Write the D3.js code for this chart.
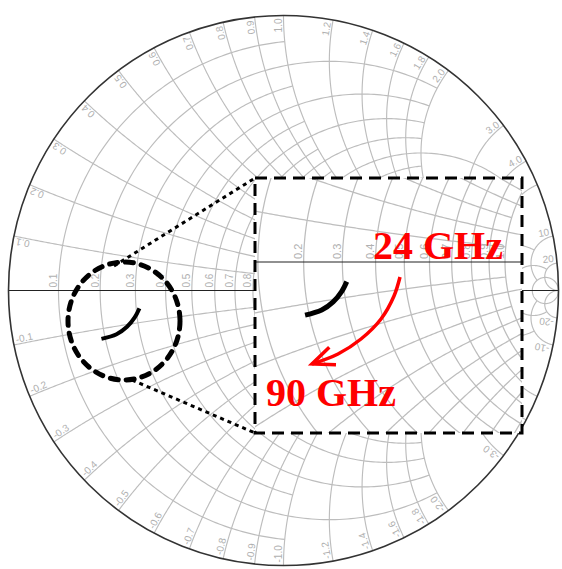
<!DOCTYPE html>
<html>
<head>
<meta charset="utf-8">
<script src="https://cdn.jsdelivr.net/npm/d3@7"></script>
<style>
  html, body { margin: 0; padding: 0; background: #fff; }
  svg { display: block; }
</style>
</head>
<body>
<svg id="chart" width="562" height="569"></svg>
<script>
// Constant-resistance circles and the largest |reactance| each one is drawn to
const resistanceValues = [0.1, 0.2, 0.3, 0.4, 0.5, 0.6, 0.7, 0.8, 0.9, 1.0, 1.2, 1.4, 1.6, 1.8, 2.0, 3.0, 4.0, 5.0, 10, 20];
const resistanceReach  = [1, 2, 1, 2, 1, 2, 1, 2, 1, 5, 2, 2, 2, 2, 5, 5, 5, 10, 20, Infinity];
// Constant-reactance arcs and the largest resistance each one is drawn to
const reactanceValues = [0.1, 0.2, 0.3, 0.4, 0.5, 0.6, 0.7, 0.8, 0.9, 1.0, 1.2, 1.4, 1.6, 1.8, 2.0, 3.0, 4.0, 5.0, 10, 20];
const reactanceReach  = [1, 2, 1, 2, 1, 2, 1, 2, 1, 5, 2, 2, 2, 2, 5, 5, 5, 10, 20, Infinity];
// Grid labels, same order as the values above
const gridLabels = ["0.1", "0.2", "0.3", "0.4", "0.5", "0.6", "0.7", "0.8", "0.9", "1.0", "1.2", "1.4", "1.6", "1.8", "2.0", "3.0", "4.0", "5.0", "10", "20"];

// Measured reflection coefficient across the sweep (real / imaginary part)
const gammaRe = [-0.524, -0.541, -0.569, -0.607, -0.662];
const gammaIm = [-0.065, -0.098, -0.132, -0.159, -0.176];
const sweepLabels = ["24 GHz", "90 GHz"];

const svg = d3.select("#chart");

// frame of the enlarged view and the ring that marks its source region
const box = { x0: 255, y0: 178, x1: 522, y1: 433 };
const lens = { cx: 124, cy: 321, rx: 56, ry: 59 };

// z -> reflection coefficient
function gamma(r, x) {
  const d = (r + 1) * (r + 1) + x * x;
  return [(r * r + x * x - 1) / d, (2 * x) / d];
}

function resistancePoints(r, reach) {
  const c = r / (1 + r), rho = 1 / (1 + r);
  let a0 = 0.0001, a1 = 2 * Math.PI - 0.0001;
  if (isFinite(reach)) {
    const p = gamma(r, reach);
    a0 = Math.atan2(p[1], p[0] - c);
    a1 = 2 * Math.PI - a0;
  }
  return d3.range(0, 241).map(i => {
    const a = a0 + (a1 - a0) * i / 240;
    return [c + rho * Math.cos(a), rho * Math.sin(a)];
  });
}

function reactancePoints(x, reach) {
  const cy = 1 / x, rho = Math.abs(1 / x);
  const p0 = gamma(0, x);
  const p1 = isFinite(reach) ? gamma(reach, x) : [1, 0];
  const a0 = Math.atan2(p0[1] - cy, p0[0] - 1);
  let da = Math.atan2(p1[1] - cy, p1[0] - 1) - a0;
  while (da > Math.PI) da -= 2 * Math.PI;
  while (da <= -Math.PI) da += 2 * Math.PI;
  return d3.range(0, 161).map(i => {
    const a = a0 + da * i / 160;
    return [1 + rho * Math.cos(a), cy + rho * Math.sin(a)];
  });
}

const inBox = b => b.x >= box.x0 + 1 && b.x + b.width <= box.x1 - 1 &&
                   b.y >= box.y0 + 1 && b.y + b.height <= box.y1 - 1;
const touchesBox = b => b.x + b.width > box.x0 && b.x < box.x1 &&
                        b.y + b.height > box.y0 && b.y < box.y1;

// Draws a Smith chart into g, centred at (cx, cy) with radius R
function drawSmith(g, cx, cy, R, opts) {
  const sx = d3.scaleLinear().domain([-1, 1]).range([cx - R, cx + R]);
  const sy = d3.scaleLinear().domain([-1, 1]).range([cy + R, cy - R]);
  const line = d3.line().x(d => sx(d[0])).y(d => sy(d[1]));
  const grid = g.append("g").attr("fill", "none").attr("stroke", "#bdbdbd").attr("stroke-width", opts.gridWidth);

  resistanceValues.forEach((r, i) => {
    grid.append("path").attr("d", line(resistancePoints(r, resistanceReach[i])));
  });
  reactanceValues.forEach((x, i) => {
    grid.append("path").attr("d", line(reactancePoints(x, reactanceReach[i])));
    grid.append("path").attr("d", line(reactancePoints(-x, reactanceReach[i])));
  });

  const labels = g.append("g").attr("fill", "#b0b0b0")
    .attr("font-family", "Liberation Sans, Arial, sans-serif")
    .attr("font-size", opts.fontSize);

  // labels on the real axis
  resistanceValues.forEach((r, i) => {
    const px = sx((r - 1) / (r + 1)) - 1.5, py = sy(0) - 3;
    labels.append("text")
      .attr("transform", `translate(${px},${py}) rotate(-90)`)
      .attr("text-anchor", "start")
      .text(gridLabels[i]);
  });

  // labels round the rim
  const pad = opts.fontSize * 0.3;
  reactanceValues.forEach((x, i) => {
    [1, -1].forEach(s => {
      const p = gamma(0, s * x);
      const th = Math.atan2(p[1], p[0]);
      const px = sx((1 - pad / R) * Math.cos(th)), py = sy((1 - pad / R) * Math.sin(th));
      const deg = -th * 180 / Math.PI;
      labels.append("text")
        .attr("transform", `translate(${px},${py}) rotate(${s > 0 ? deg : deg + 180})`)
        .attr("text-anchor", s > 0 ? "end" : "start")
        .attr("dy", "-0.15em")
        .text(s > 0 ? gridLabels[i] : "-" + gridLabels[i]);
    });
  });

  // keep only the labels that are visible in this view
  labels.selectAll("text").each(function () {
    const b = this.getBoundingClientRect();
    const box2 = { x: b.left, y: b.top, width: b.width, height: b.height };
    if (!opts.keepLabel(box2)) d3.select(this).remove();
  });

  // real axis
  g.append("line")
    .attr("x1", sx(-1)).attr("x2", sx(1)).attr("y1", sy(0)).attr("y2", sy(0))
    .attr("stroke", "#222").attr("stroke-width", 1.2);

  // outer rim
  g.append("circle").attr("cx", cx).attr("cy", cy).attr("r", R)
    .attr("fill", "none").attr("stroke", "#333").attr("stroke-width", 1.6);

  // measured trace
  const trace = d3.line().curve(d3.curveCatmullRom)
    .x((d, i) => sx(gammaRe[i])).y((d, i) => sy(gammaIm[i]));
  g.append("path").attr("d", trace(gammaRe))
    .attr("fill", "none").attr("stroke", "#000").attr("stroke-width", opts.traceWidth)
    .attr("stroke-linecap", "butt");
  return { sx, sy };
}

// main chart
const mainG = svg.append("g");
drawSmith(mainG, 283.5, 290.5, 275, {
  gridWidth: 1.15, fontSize: 10, traceWidth: 4,
  keepLabel: b => !touchesBox(b) && b.x + b.width < 561 && b.x > 1
});

// leader lines from the ring to the enlarged view
svg.append("line")
  .attr("x1", 114).attr("y1", 266).attr("x2", box.x0).attr("y2", box.y0)
  .attr("stroke", "#000").attr("stroke-width", 3).attr("stroke-dasharray", "4 4");
svg.append("line")
  .attr("x1", 132).attr("y1", 380).attr("x2", box.x0).attr("y2", box.y1)
  .attr("stroke", "#000").attr("stroke-width", 3).attr("stroke-dasharray", "4 4");

svg.append("ellipse")
  .attr("cx", lens.cx).attr("cy", lens.cy).attr("rx", lens.rx).attr("ry", lens.ry)
  .attr("fill", "none").attr("stroke", "#000").attr("stroke-width", 5)
  .attr("stroke-dasharray", "8 8").attr("stroke-linecap", "round");

// enlarged view
svg.append("defs").append("clipPath").attr("id", "boxClip")
  .append("rect").attr("x", box.x0).attr("y", box.y0)
  .attr("width", box.x1 - box.x0).attr("height", box.y1 - box.y0);
svg.append("rect").attr("x", box.x0).attr("y", box.y0)
  .attr("width", box.x1 - box.x0).attr("height", box.y1 - box.y0).attr("fill", "#fff");
const zoomG = svg.append("g").attr("clip-path", "url(#boxClip)");
drawSmith(zoomG, 505, 262, 302, {
  gridWidth: 1.25, fontSize: 11, traceWidth: 5,
  keepLabel: inBox
});

svg.append("rect").attr("x", box.x0).attr("y", box.y0)
  .attr("width", box.x1 - box.x0).attr("height", box.y1 - box.y0)
  .attr("fill", "none").attr("stroke", "#000").attr("stroke-width", 3)
  .attr("stroke-dasharray", "12 7");

// sweep direction arrow
const arrowPts = [[400, 277], [394, 296], [381, 319], [361, 339], [338, 354], [312, 364]];
svg.append("path")
  .attr("d", d3.line().curve(d3.curveCatmullRom)(arrowPts))
  .attr("fill", "none").attr("stroke", "#f00").attr("stroke-width", 3.5);
const tip = arrowPts[arrowPts.length - 1], prev = arrowPts[arrowPts.length - 2];
const ang = Math.atan2(prev[1] - tip[1], prev[0] - tip[0]);
const head = [ang - 0.4, ang + 0.4].map(a => [tip[0] + 24 * Math.cos(a), tip[1] + 24 * Math.sin(a)]);
svg.append("path")
  .attr("d", `M${head[0][0]},${head[0][1]}L${tip[0]},${tip[1]}L${head[1][0]},${head[1][1]}`)
  .attr("fill", "none").attr("stroke", "#f00").attr("stroke-width", 3.5)
  .attr("stroke-linejoin", "miter");

const redText = svg.append("g").attr("fill", "#f00")
  .attr("font-family", "Liberation Serif, Times New Roman, serif")
  .attr("font-weight", "bold").attr("font-size", 40);
redText.append("text").attr("x", 373).attr("y", 259).text(sweepLabels[0]);
redText.append("text").attr("x", 266).attr("y", 406).text(sweepLabels[1]);
</script>
</body>
</html>
